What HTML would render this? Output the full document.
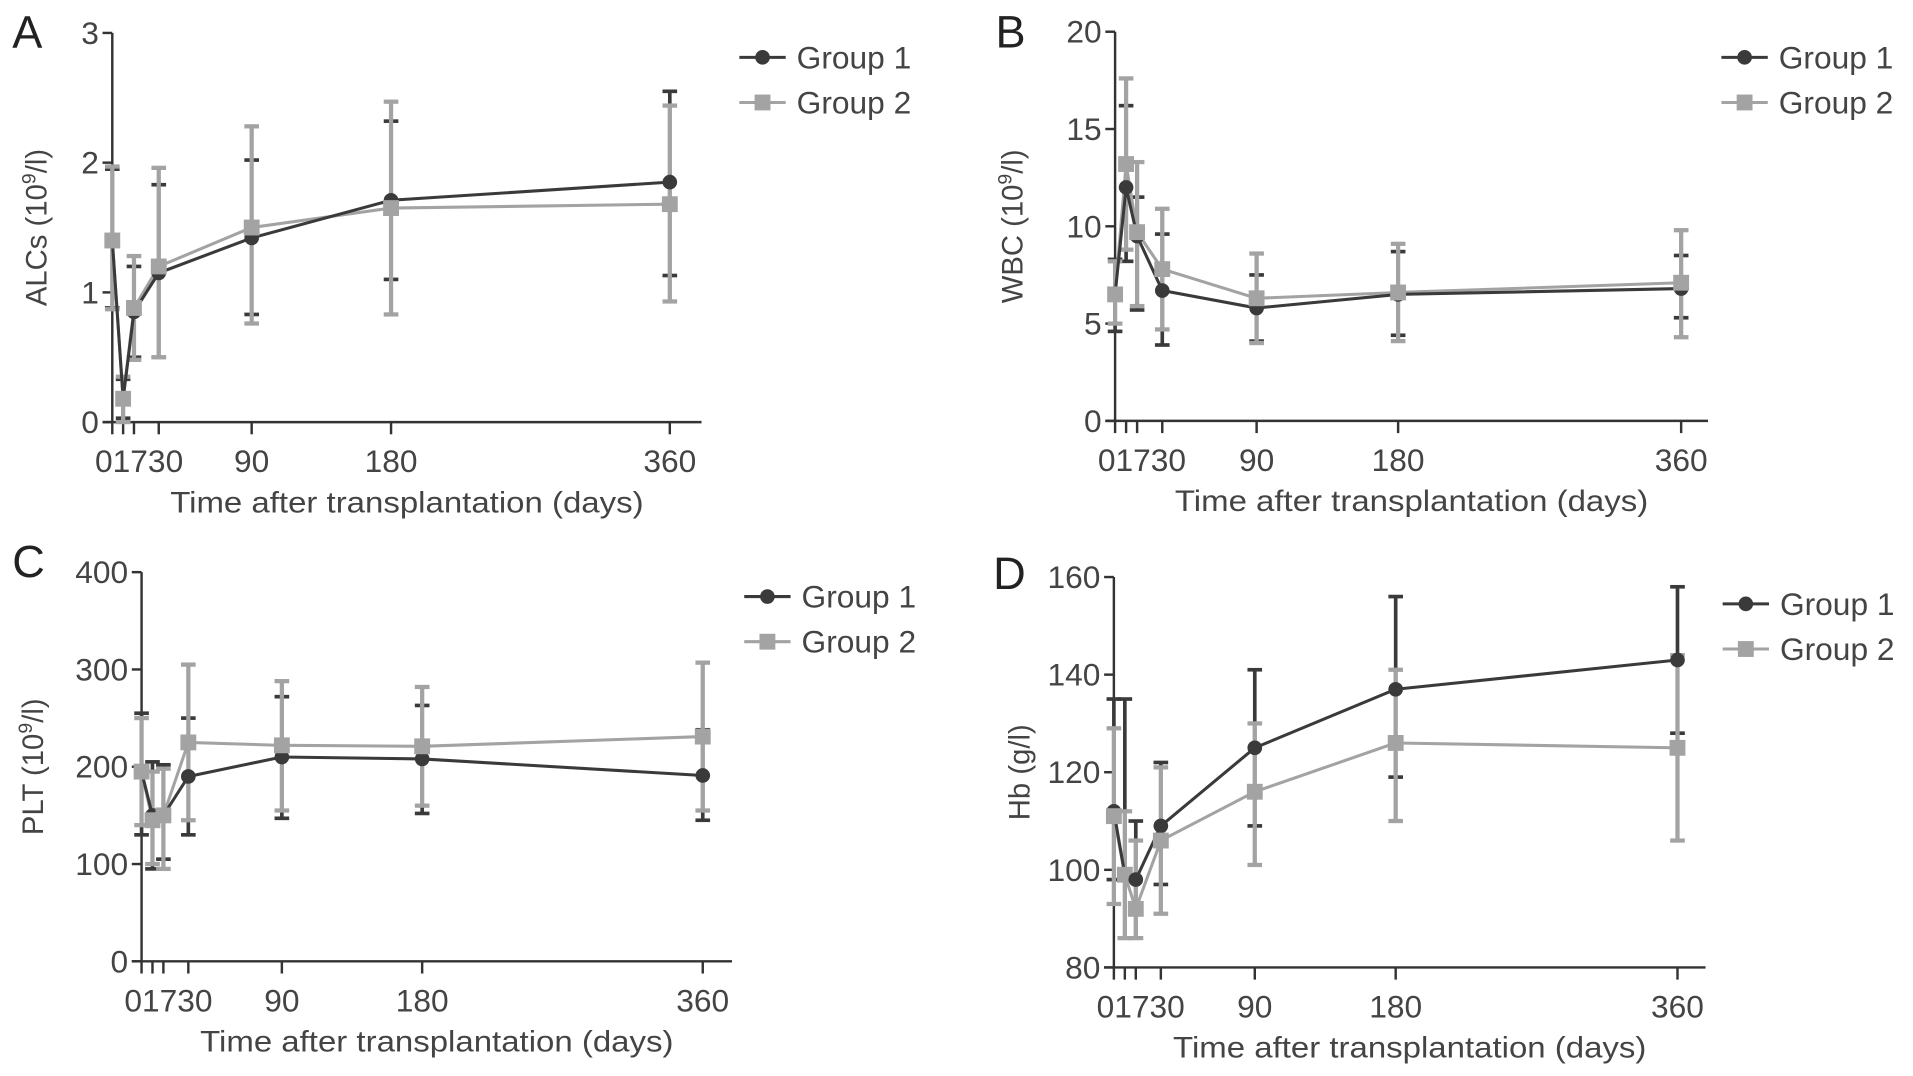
<!DOCTYPE html>
<html><head><meta charset="utf-8"><style>
html,body{margin:0;padding:0;background:#fff;}
svg{display:block;font-family:"Liberation Sans",sans-serif;}
</style></head><body>
<svg id="fig" width="1913" height="1076" viewBox="0 0 1568 882" xmlns="http://www.w3.org/2000/svg"></svg>
<script>
const days = [0, 7, 14, 30, 90, 180, 360];
const xTickDays = [0, 7, 14, 30, 90, 180, 360];
const xTickLabels = ["01730", "", "", "", "90", "180", "360"];
// Panel A ALCs
const aG1 = [1.4, 0.18, 0.85, 1.15, 1.42, 1.71, 1.85];
const aG1Lo = [0.88, 0.03, 0.5, 0.5, 0.83, 1.1, 1.13];
const aG1Hi = [1.95, 0.33, 1.2, 1.83, 2.02, 2.32, 2.55];
const aG2 = [1.4, 0.18, 0.88, 1.2, 1.5, 1.65, 1.68];
const aG2Lo = [0.87, 0.0, 0.48, 0.5, 0.76, 0.83, 0.93];
const aG2Hi = [1.97, 0.35, 1.28, 1.96, 2.28, 2.47, 2.44];
const aTicks = [0, 1, 2, 3];
// Panel B WBC
const bG1 = [6.5, 12, 9.5, 6.7, 5.8, 6.5, 6.8];
const bG1Lo = [4.6, 8.2, 5.7, 3.9, 4.1, 4.4, 5.3];
const bG1Hi = [8.3, 16.2, 11.5, 9.6, 7.5, 8.7, 8.5];
const bG2 = [6.5, 13.2, 9.7, 7.8, 6.3, 6.6, 7.1];
const bG2Lo = [5.0, 8.8, 5.9, 4.7, 4.0, 4.1, 4.3];
const bG2Hi = [8.2, 17.6, 13.3, 10.9, 8.6, 9.1, 9.8];
const bTicks = [0, 5, 10, 15, 20];
// Panel C PLT
const cG1 = [195, 150, 150, 190, 210, 208, 191];
const cG1Lo = [130, 95, 105, 130, 147, 152, 145];
const cG1Hi = [255, 205, 202, 250, 272, 263, 238];
const cG2 = [195, 145, 150, 225, 222, 221, 231];
const cG2Lo = [140, 100, 95, 145, 155, 160, 155];
const cG2Hi = [250, 195, 198, 305, 288, 282, 307];
const cTicks = [0, 100, 200, 300, 400];
// Panel D Hb
const dG1 = [112, 99, 98, 109, 125, 137, 143];
const dG1Lo = [98, 86, 86, 97, 109, 119, 128];
const dG1Hi = [135, 135, 110, 122, 141, 156, 158];
const dG2 = [111, 99, 92, 106, 116, 126, 125];
const dG2Lo = [93, 86, 86, 91, 101, 110, 106];
const dG2Hi = [129, 112, 106, 121, 130, 141, 144];
const dTicks = [80, 100, 120, 140, 160];

const NS = "http://www.w3.org/2000/svg";
const svg = document.getElementById("fig");
const DARK = "#3a3a3a", LIGHT = "#a3a3a3", AX = "#333";
function mk(tag, attrs, parent) {
  const e = document.createElementNS(NS, tag);
  for (const k in attrs) e.setAttribute(k, attrs[k]);
  (parent || svg).appendChild(e);
  return e;
}

function panel(p) {
  const g = mk("g", {});
  
  
  const xs = d => p.x0 + (p.x360 - p.x0) * d / 360;
  const ymin = p.ticks[0], ymax = p.ticks[p.ticks.length - 1];
  const ys = v => p.yBot - (p.yBot - p.yTop) * (v - ymin) / (ymax - ymin);

  const letter = mk("text", {x: p.lx, y: p.ly, "font-size": 37, fill: "#222"}, g);
  letter.textContent = p.key.toUpperCase();
  
  

  const yAxis = mk("line", {x1: p.x0, y1: p.yTop, x2: p.x0, y2: p.yBot, stroke: AX, "stroke-width": 2}, g);
  
  
  const xAxis = mk("line", {x1: p.x0 - 8, y1: p.yBot, x2: p.xEnd, y2: p.yBot, stroke: AX, "stroke-width": 2}, g);
  
  
  p.ticks.forEach(t => {
    mk("line", {x1: p.x0 - 8, y1: ys(t), x2: p.x0, y2: ys(t), stroke: AX, "stroke-width": 2}, g);
    const tl = mk("text", {x: p.x0 - 11, y: ys(t) + 9, "font-size": 26, fill: "#444", "text-anchor": "end"}, g);
    tl.textContent = t;
    
    
  });
  xTickDays.forEach((d, i) => {
    mk("line", {x1: xs(d), y1: p.yBot, x2: xs(d), y2: p.yBot + 10, stroke: AX, "stroke-width": 2}, g);
    if (xTickLabels[i]) {
      const cx = i === 0 ? xs(0) + 22 : xs(d);
      const tl = mk("text", {x: cx, y: p.yBot + 41, "font-size": 26, fill: "#444", "text-anchor": "middle"}, g);
      tl.textContent = xTickLabels[i];
      
      
    }
  });
  const xt = mk("text", {x: (p.x0 + p.xEnd) / 2, y: p.yBot + 74, "font-size": 24, fill: "#444", "text-anchor": "middle", textLength: 388, lengthAdjust: "spacingAndGlyphs"}, g);
  xt.textContent = "Time after transplantation (days)";
  
  
  const yt = mk("text", {x: 0, y: 0, "font-size": 24, fill: "#444", "text-anchor": "middle", transform: `translate(${p.ylx},${(p.yTop + p.yBot) / 2}) rotate(-90)`}, g);
  yt.innerHTML = p.ylab;
  
  

  function errs(lo, hi, col, w, name) {
    days.forEach((d, i) => {
      const eb = mk("g", {stroke: col, "stroke-width": w}, g);
      
      
      mk("line", {x1: xs(d), y1: ys(lo[i]), x2: xs(d), y2: ys(hi[i])}, eb);
      mk("line", {x1: xs(d) - 6, y1: ys(lo[i]), x2: xs(d) + 6, y2: ys(lo[i])}, eb);
      mk("line", {x1: xs(d) - 6, y1: ys(hi[i]), x2: xs(d) + 6, y2: ys(hi[i])}, eb);
    });
  }
  function line(vals, col, name) {
    const l = mk("polyline", {points: days.map((d, i) => xs(d) + "," + ys(vals[i])).join(" "), fill: "none", stroke: col, "stroke-width": 2.5}, g);
    
    
  }
  errs(p.g1lo, p.g1hi, DARK, 3, 'group1-error-bar');
  errs(p.g2lo, p.g2hi, LIGHT, 3.5, 'group2-error-bar');
  line(p.g2, LIGHT, 'group2-line');
  line(p.g1, DARK, 'group1-line');
  days.forEach((d, i) => {
    const c = mk("circle", {cx: xs(d), cy: ys(p.g1[i]), r: 6, fill: DARK}, g);
    
    
    const s = mk("rect", {x: xs(d) - 6.5, y: ys(p.g2[i]) - 6.5, width: 13, height: 13, fill: LIGHT}, g);
    
    
  });

  const lg = mk("g", {}, g);
  
  
  [["Group 1", DARK, p.ly1, "c"], ["Group 2", LIGHT, p.ly2, "s"]].forEach(([t, col, y, m]) => {
    const e = mk("g", {}, lg);
    
    
    mk("line", {x1: p.lgx - 4, y1: y, x2: p.lgx + 34, y2: y, stroke: col, "stroke-width": 2.5}, e);
    if (m === "c") mk("circle", {cx: p.lgx + 15, cy: y, r: 6, fill: col}, e);
    else mk("rect", {x: p.lgx + 8.5, y: y - 6.5, width: 13, height: 13, fill: col}, e);
    const tx = mk("text", {x: p.lgx + 43, y: y + 9, "font-size": 26, fill: "#444"}, e);
    tx.textContent = t;
  });
}

const sup = '<tspan>(10</tspan><tspan dy="-9" font-size="16">9</tspan><tspan dy="9">/l)</tspan>';
panel({key: "a", x0: 92, x360: 549, xEnd: 575, yTop: 27, yBot: 346, ticks: aTicks, lx: 10, ly: 39, ylx: 38,
  ylab: 'ALCs ' + sup, g1: aG1, g1lo: aG1Lo, g1hi: aG1Hi, g2: aG2, g2lo: aG2Lo, g2hi: aG2Hi, lgx: 610, ly1: 47, ly2: 84});
panel({key: "b", x0: 914, x360: 1378, xEnd: 1400, yTop: 26, yBot: 345, ticks: bTicks, lx: 816, ly: 39, ylx: 838,
  ylab: 'WBC ' + sup, g1: bG1, g1lo: bG1Lo, g1hi: bG1Hi, g2: bG2, g2lo: bG2Lo, g2hi: bG2Hi, lgx: 1415, ly1: 47, ly2: 84});
panel({key: "c", x0: 116, x360: 576, xEnd: 600, yTop: 469, yBot: 788, ticks: cTicks, lx: 10, ly: 473, ylx: 35,
  ylab: 'PLT ' + sup, g1: cG1, g1lo: cG1Lo, g1hi: cG1Hi, g2: cG2, g2lo: cG2Lo, g2hi: cG2Hi, lgx: 614, ly1: 489, ly2: 526});
panel({key: "d", x0: 913, x360: 1375, xEnd: 1398, yTop: 473, yBot: 793, ticks: dTicks, lx: 814, ly: 483, ylx: 844,
  ylab: 'Hb (g/l)', g1: dG1, g1lo: dG1Lo, g1hi: dG1Hi, g2: dG2, g2lo: dG2Lo, g2hi: dG2Hi, lgx: 1416, ly1: 495, ly2: 532});
</script>
</body></html>
